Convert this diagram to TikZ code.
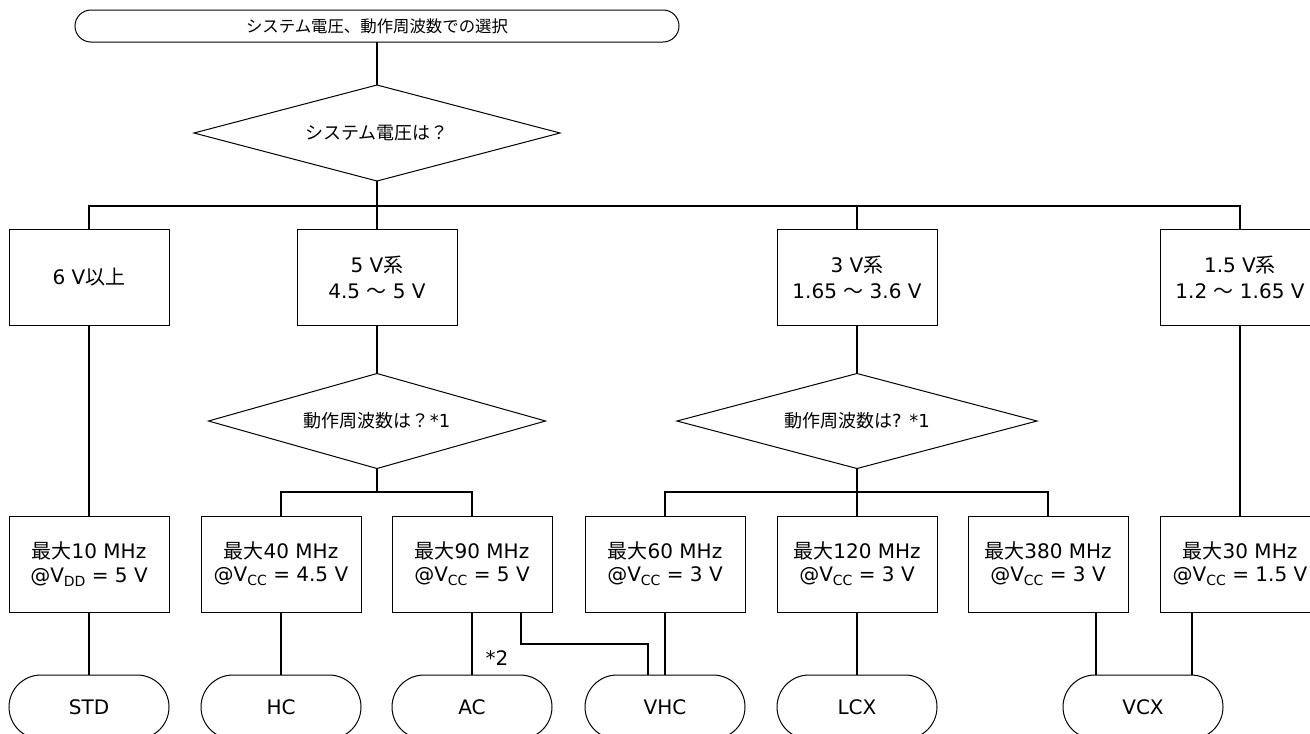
\documentclass[tikz,border=0pt]{standalone}
\usepackage{fontspec}
\setmainfont{DejaVu Sans}
\newfontfamily\jp{Noto Sans CJK JP}
\usetikzlibrary{shapes.geometric}
\newcommand\J[1]{{\jp #1}}
\newcommand\subs[1]{\raisebox{-0.2em}{\fontsize{10.5}{10.5}\selectfont #1}}
\tikzset{
  shp/.style={draw=black, line width=0.75pt, fill=white, inner sep=0pt, outer sep=0pt, align=center, text=black},
  boxA/.style={shp, rectangle, minimum width=120pt, minimum height=72pt, font=\fontsize{15}{19.5}\selectfont},
  boxB/.style={shp, rectangle, minimum width=120pt, minimum height=72pt, font=\fontsize{15}{17.5}\selectfont},
  dia/.style={shp, diamond, aspect=3.5, font=\fontsize{13.5}{16}\selectfont},
  term/.style={shp, rectangle, rounded corners=24pt, minimum width=120pt, minimum height=48pt, font=\fontsize{15}{18}\selectfont},
  conn/.style={line width=1.1pt, draw=black},
}
\begin{document}
\begin{tikzpicture}[x=0.75pt, y=-0.75pt]
\useasboundingbox (0,0) rectangle (1310,733);
% top terminal
\node[shp, rectangle, rounded corners=12pt, minimum width=453pt, minimum height=24pt, font=\fontsize{12.3}{14}\selectfont] (start) at (377,26) {\J{システム電圧、動作周波数での選択}};
% first decision
\node[dia, minimum width=274.5pt, minimum height=72pt] (d1) at (377,133) {\J{システム電圧は？}};
\coordinate (bus1) at (377,206);
% level 2 boxes
\node[boxA] (b1) at (89,277) {6 V\J{以上}};
\node[boxA] (b2) at (377,277) {5 V\J{系}\\4.5 \J{～} 5 V};
\node[boxA] (b3) at (857,277) {3 V\J{系}\\1.65 \J{～} 3.6 V};
\node[boxA] (b4) at (1240,277) {1.5 V\J{系}\\1.2 \J{～} 1.65 V};
% decisions level 2
\node[dia, minimum width=252.75pt, minimum height=71.25pt] (d2) at (377,421) {\J{動作周波数は？}*1};
\node[dia, minimum width=270pt, minimum height=71.25pt] (d3) at (857,421) {\J{動作周波数は}? *1};
\coordinate (bus2) at (377,492);
\coordinate (bus3) at (857,492);
% level 3 boxes
\node[boxB] (c1) at (89,564) {\J{最大}10 MHz\\@V\subs{DD} = 5 V};
\node[boxB] (c2) at (281,564) {\J{最大}40 MHz\\@V\subs{CC} = 4.5 V};
\node[boxB] (c3) at (472,564) {\J{最大}90 MHz\\@V\subs{CC} = 5 V};
\node[boxB] (c4) at (665,564) {\J{最大}60 MHz\\@V\subs{CC} = 3 V};
\node[boxB] (c5) at (857,564) {\J{最大}120 MHz\\@V\subs{CC} = 3 V};
\node[boxB] (c6) at (1048,564) {\J{最大}380 MHz\\@V\subs{CC} = 3 V};
\node[boxB] (c7) at (1240,564) {\J{最大}30 MHz\\@V\subs{CC} = 1.5 V};
% terminals
\node[term] (t1) at (89,707) {STD};
\node[term] (t2) at (281,707) {HC};
\node[term] (t3) at (472,707) {AC};
\node[term] (t4) at (665,707) {VHC};
\node[term] (t5) at (857,707) {LCX};
\node[term] (t6) at (1143,707) {VCX};
\node[font=\fontsize{15}{18}\selectfont, inner sep=0pt] (n2) at (497,658) {*2};
% connectors
\draw[conn] (start.south) -- (d1.north);
\draw[conn] (d1.south) -- (bus1);
\draw[conn] (b1.north) |- (bus1) -| (b4.north);
\draw[conn] (b2.north) -- (bus1);
\draw[conn] (b3.north) -- (b3.north |- bus1);
\draw[conn] (b1.south) -- (c1.north);
\draw[conn] (b2.south) -- (d2.north);
\draw[conn] (b3.south) -- (d3.north);
\draw[conn] (b4.south) -- (c7.north);
\draw[conn] (d2.south) -- (bus2);
\draw[conn] (c2.north) |- (bus2) -| (c3.north);
\draw[conn] (d3.south) -- (bus3);
\draw[conn] (c4.north) |- (bus3) -| (c6.north);
\draw[conn] (c5.north) -- (bus3);
\draw[conn] (c1.south) -- (t1.north);
\draw[conn] (c2.south) -- (t2.north);
\draw[conn] (c3.south) -- (t3.north);
\draw[conn] ([xshift=36.75pt]c3.south) -- ++(0,32) -| ([xshift=-12.75pt]t4.north);
\draw[conn] (c4.south) -- (t4.north);
\draw[conn] (c5.south) -- (t5.north);
\draw[conn] ([xshift=36pt]c6.south) -- ([xshift=36pt]c6.south |- t6.north);
\draw[conn] ([xshift=-36pt]c7.south) -- ([xshift=-36pt]c7.south |- t6.north);
\end{tikzpicture}
\end{document}
